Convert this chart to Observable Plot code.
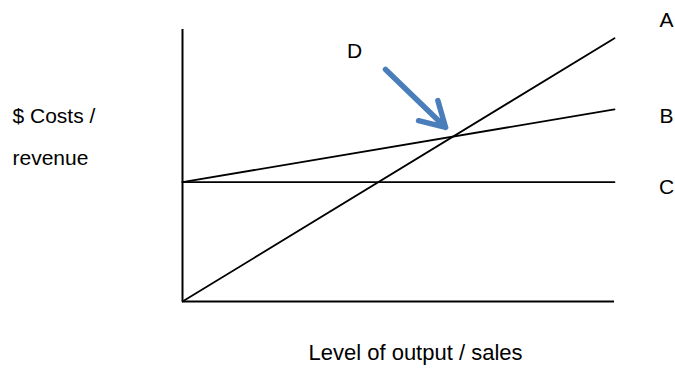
<!DOCTYPE html>
<html><head><meta charset="utf-8">
<script src="https://cdn.jsdelivr.net/npm/d3@7"></script>
<script src="https://cdn.jsdelivr.net/npm/@observablehq/plot@0.6"></script>
<style>body{margin:0;background:#fff}</style>
</head><body><div id="chart"></div>
<script>
// Data
const output = [0, 10];                 // level of output / sales
const lineNames = ["A", "B", "C"];
const revenueA = [0, 96.8];             // A: total revenue
const totalCostB = [43.9, 70.6];        // B: total cost
const fixedCostC = [43.9, 43.9];        // C: fixed cost
const axisMax = 100;
const breakEvenLabel = "D";
const arrowFrom = [4.70, 85.3];
const arrowTo = [6.09, 64.0];
const yTitle = "$ Costs /\nrevenue";
const xTitle = "Level of output / sales";

const series = [revenueA, totalCostB, fixedCostC];
const lines = lineNames.flatMap((name, i) =>
  output.map((x, j) => ({name, x, y: series[i][j]})));
const ends = lineNames.map((name, i) => ({name, x: output[output.length - 1], y: series[i][series[i].length - 1]}));

const font = "Liberation Sans, Arial, sans-serif";
const fs = 21;

const chart = Plot.plot({
  width: 675,
  height: 369,
  marginLeft: 182,
  marginRight: 61,
  marginTop: 29,
  marginBottom: 68,
  x: {domain: [output[0], output[1]], axis: null},
  y: {domain: [0, axisMax], axis: null},
  style: {fontFamily: font, background: "#fff", overflow: "visible"},
  marks: [
    Plot.ruleX([output[0]], {y1: 0, y2: axisMax, stroke: "#000", strokeWidth: 2}),
    Plot.ruleY([0], {x1: output[0], x2: output[1], stroke: "#000", strokeWidth: 2}),
    Plot.line(lines, {x: "x", y: "y", z: "name", stroke: "#000", strokeWidth: 1.8}),
    Plot.text(ends.filter(d => d.name === "A"), {x: "x", y: "y", text: "name", dx: 52, dy: -18, fontSize: fs, fill: "#000"}),
    Plot.text(ends.filter(d => d.name === "B"), {x: "x", y: "y", text: "name", dx: 52, dy: 7, fontSize: fs, fill: "#000"}),
    Plot.text(ends.filter(d => d.name === "C"), {x: "x", y: "y", text: "name", dx: 52, dy: 5, fontSize: fs, fill: "#000"}),
    Plot.arrow([{x1: arrowFrom[0], y1: arrowFrom[1], x2: arrowTo[0], y2: arrowTo[1]}], {
      x1: "x1", y1: "y1", x2: "x2", y2: "y2", stroke: "#4a7ebb", strokeWidth: 5.5, headLength: 10
    }),
    Plot.text([{x: arrowFrom[0], y: arrowFrom[1], t: breakEvenLabel}], {x: "x", y: "y", text: "t", dx: -31, dy: -18, fontSize: fs, fill: "#000"}),
    Plot.text([yTitle], {frameAnchor: "left", textAnchor: "start", dx: -170, dy: -35, lineHeight: 2.0, fontSize: fs, fill: "#000"}),
    Plot.text([xTitle], {frameAnchor: "bottom", dx: 17, dy: 58, fontSize: 22, fill: "#000"})
  ]
});
document.getElementById("chart").append(chart);
</script>
</body></html>
